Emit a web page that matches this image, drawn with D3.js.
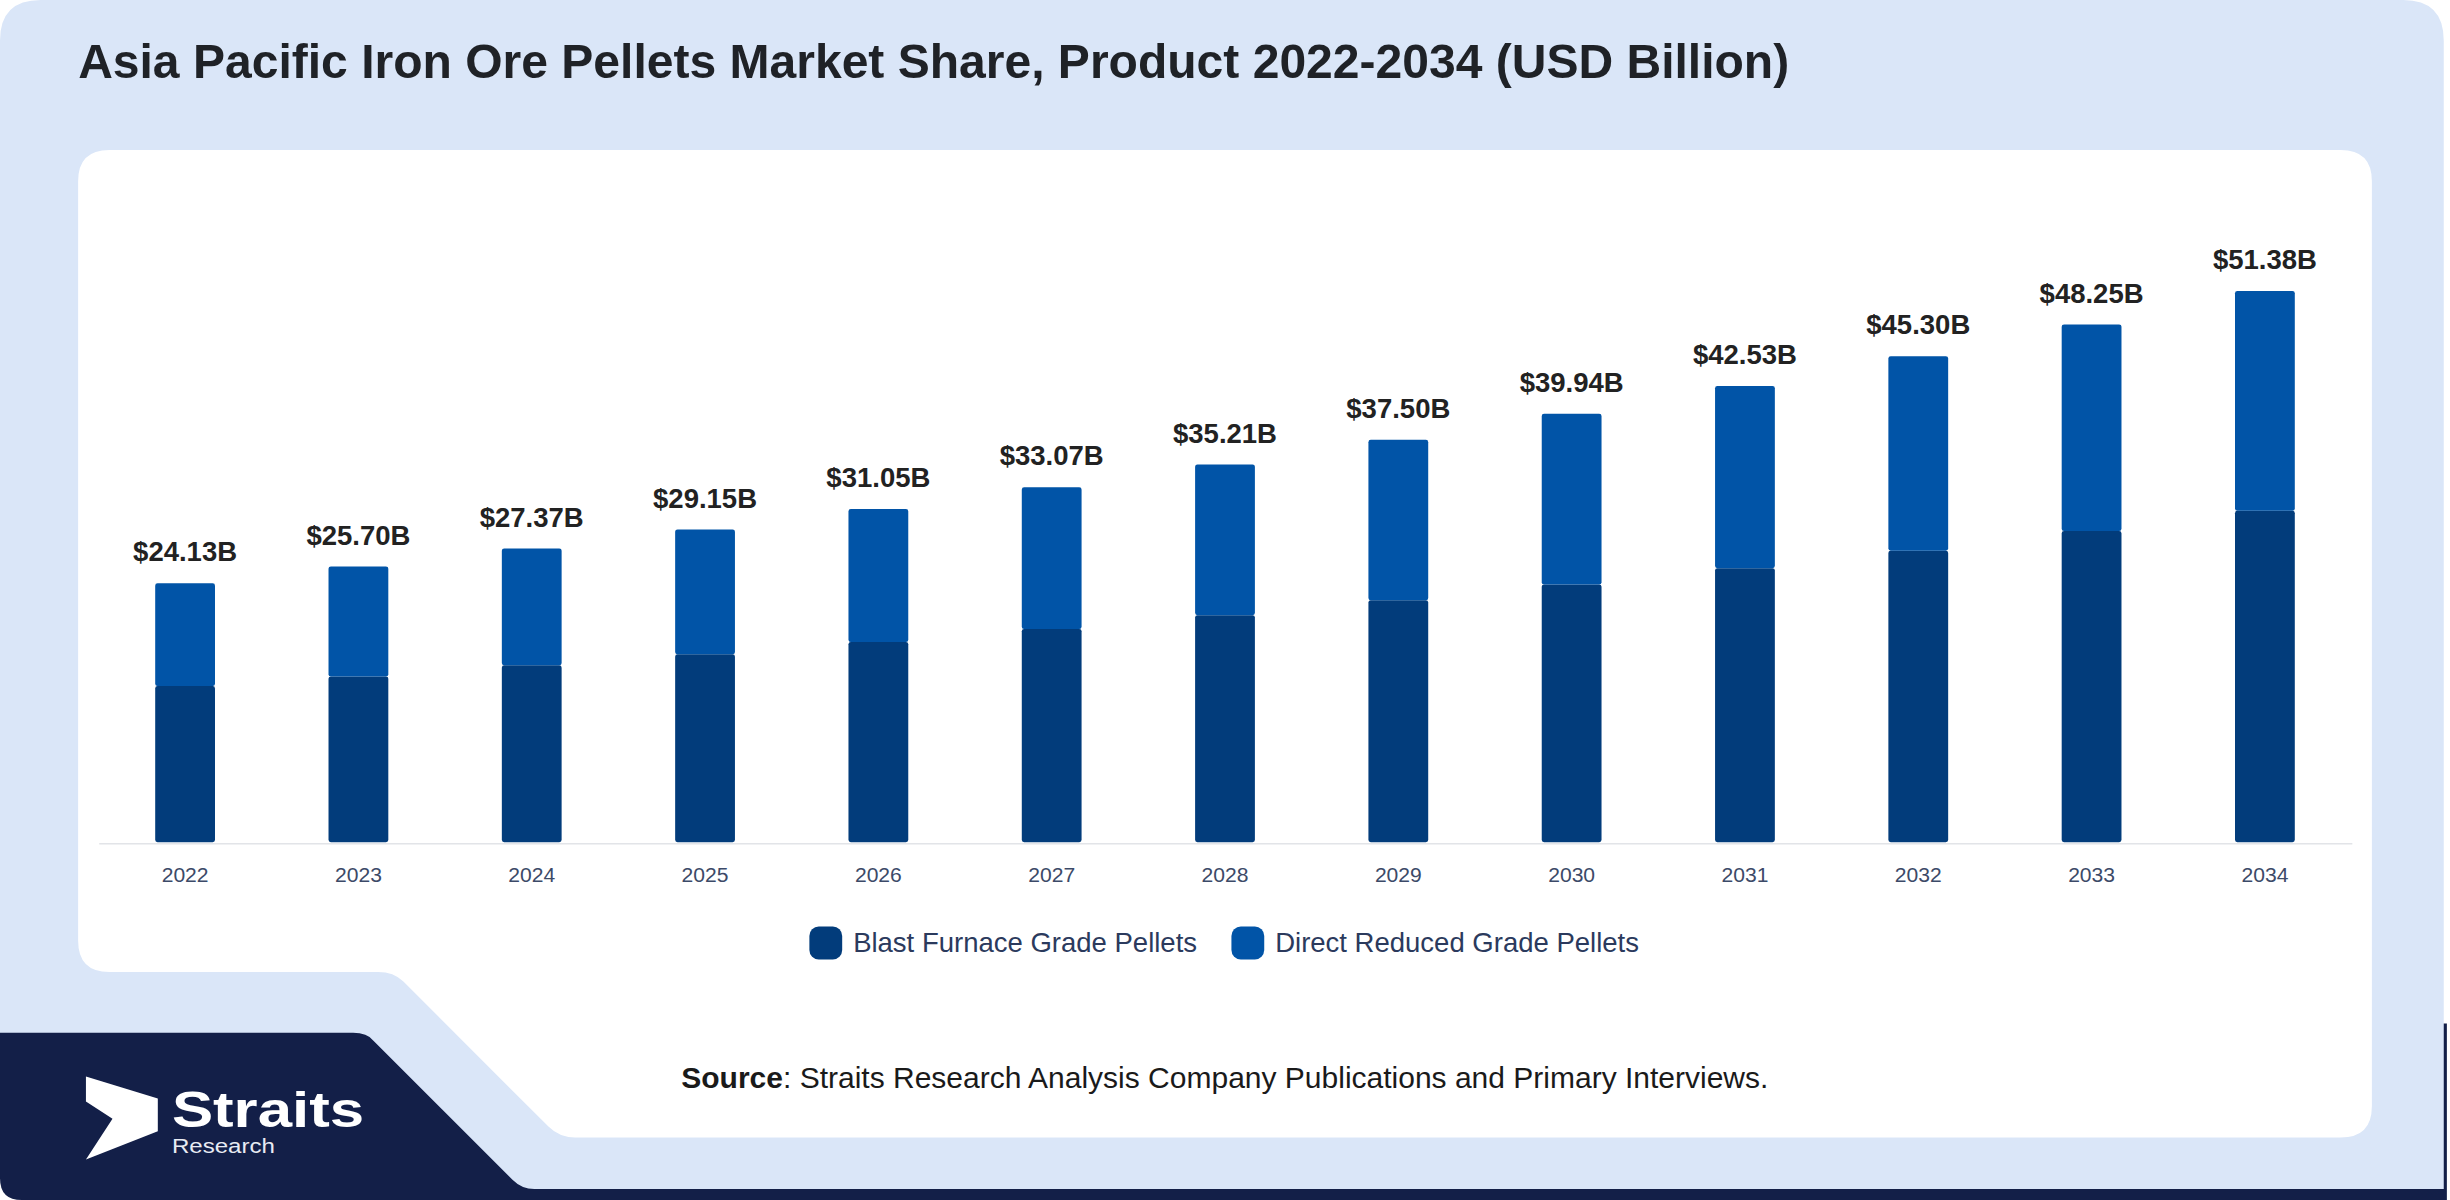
<!DOCTYPE html>
<html>
<head>
<meta charset="utf-8">
<script src="https://cdn.jsdelivr.net/npm/d3@7"></script>
<style>
  body { margin: 0; background: #ffffff; }
  svg { display: block; }
  text { font-family: "Liberation Sans", Arial, sans-serif; }
</style>
</head>
<body>
<div id="chart"></div>
<script>
// chart data
var years = ["2022", "2023", "2024", "2025", "2026", "2027", "2028", "2029", "2030", "2031", "2032", "2033", "2034"];
var blastFurnace = [14.55, 15.44, 16.48, 17.51, 18.66, 19.87, 21.16, 22.55, 24.02, 25.54, 27.17, 29.00, 30.88];
var directReduced = [9.58, 10.26, 10.89, 11.64, 12.39, 13.20, 14.05, 14.95, 15.92, 16.99, 18.13, 19.25, 20.50];
var totalLabels = ["$24.13B", "$25.70B", "$27.37B", "$29.15B", "$31.05B", "$33.07B", "$35.21B", "$37.50B", "$39.94B", "$42.53B", "$45.30B", "$48.25B", "$51.38B"];
var seriesNames = ["Blast Furnace Grade Pellets", "Direct Reduced Grade Pellets"];
var seriesColors = ["#023c7b", "#0154a7"];

// drawing is done on a 1568x768 grid, scaled up to the 2450x1200 page
var svgWidth = 2450;
var svgHeight = 1200;
var W = 1568, H = 768;

var svg = d3.select("#chart").append("svg")
  .attr("width", svgWidth)
  .attr("height", svgHeight)
  .attr("viewBox", `0 0 ${W} ${H}`);

// background shapes
svg.append("path")
  .attr("d", "M0,655 H1566 V768 H14 Q0,768 0,754 Z")
  .attr("fill", "#131f48");

svg.append("path")
  .attr("d", "M26,0 H1538 Q1564,0 1564,26 V761 H342 Q334,761 328,755 L239,666 Q235,661 226,661 H0 V26 Q0,0 26,0 Z")
  .attr("fill", "#dae6f8");

svg.append("path")
  .attr("d", "M70,96 H1498 Q1518,96 1518,116 V708 Q1518,728 1498,728 H368 Q358,728 351,721 L258,628 Q252,622 242,622 H70 Q50,622 50,602 V116 Q50,96 70,96 Z")
  .attr("fill", "#ffffff");

// title
svg.append("text")
  .attr("x", 50)
  .attr("y", 50)
  .attr("font-size", 30.75)
  .attr("font-weight", "bold")
  .attr("fill", "#1f2227")
  .text("Asia Pacific Iron Ore Pellets Market Share, Product 2022-2034 (USD Billion)");

// scales
var xScale = d3.scaleBand()
  .domain(years)
  .range([63, 1505])
  .paddingInner(0.655)
  .paddingOuter(0.3275);

var yScale = d3.scaleLinear()
  .domain([0, 60])
  .range([539, 127]);

var tableData = years.map(function(y, i) {
  return { year: y, blast: blastFurnace[i], direct: directReduced[i], label: totalLabels[i] };
});

var stack = d3.stack().keys(["blast", "direct"]);
var stacked = stack(tableData);

var chartGroup = svg.append("g");

chartGroup.selectAll("g.series")
  .data(stacked)
  .enter()
  .append("g")
  .attr("class", "series")
  .attr("fill", (d, i) => seriesColors[i])
  .selectAll("rect")
  .data(d => d)
  .enter()
  .append("rect")
  .attr("x", d => xScale(d.data.year))
  .attr("y", d => yScale(d[1]))
  .attr("width", xScale.bandwidth())
  .attr("height", d => yScale(d[0]) - yScale(d[1]))
  .attr("rx", 1.5);

// x axis
var xAxis = d3.axisBottom(xScale).tickSize(0).tickPadding(15.5);
var axisG = chartGroup.append("g")
  .attr("transform", "translate(0, 539.5)")
  .call(xAxis);
axisG.select(".domain").attr("stroke", "#e2e4e8").attr("stroke-width", 1);
axisG.selectAll(".tick text")
  .attr("font-family", "'Liberation Sans', Arial, sans-serif")
  .attr("font-size", 13.5)
  .attr("fill", "#3c4a68");

// total labels
chartGroup.selectAll("text.total")
  .data(tableData)
  .enter()
  .append("text")
  .attr("class", "total")
  .attr("x", d => xScale(d.year) + xScale.bandwidth() / 2)
  .attr("y", d => yScale(d.blast + d.direct) - 14)
  .attr("text-anchor", "middle")
  .attr("font-size", 17.6)
  .attr("font-weight", "bold")
  .attr("fill", "#222222")
  .text(d => d.label);

// legend
var legend = svg.append("g");
var lx = 518;
seriesNames.forEach(function(name, i) {
  legend.append("rect")
    .attr("x", lx)
    .attr("y", 593)
    .attr("width", 21)
    .attr("height", 21)
    .attr("rx", 6)
    .attr("fill", seriesColors[i]);
  var t = legend.append("text")
    .attr("x", lx + 28)
    .attr("y", 609)
    .attr("font-size", 17.6)
    .attr("fill", "#2b3a5d")
    .text(name);
  lx = lx + 28 + t.node().getComputedTextLength() + 22;
});

// source line
var src = svg.append("text")
  .attr("x", 436)
  .attr("y", 696)
  .attr("font-size", 19.2)
  .attr("fill", "#1a1a1a");
src.append("tspan").attr("font-weight", "bold").text("Source");
src.append("tspan").text(": Straits Research Analysis Company Publications and Primary Interviews.");

// logo
svg.append("path")
  .attr("d", "M55,689 L101,703 L101,724 L55,742 L72,716 L55,705 Z")
  .attr("fill", "#ffffff");
svg.append("text")
  .attr("x", 110)
  .attr("y", 721)
  .attr("font-family", "'Open Sans', 'Noto Sans', sans-serif")
  .attr("font-weight", 600)
  .attr("font-size", 32)
  .attr("textLength", 123)
  .attr("lengthAdjust", "spacingAndGlyphs")
  .attr("fill", "#ffffff")
  .text("Straits");
svg.append("text")
  .attr("x", 110)
  .attr("y", 738)
  .attr("font-family", "'Open Sans', 'Noto Sans', sans-serif")
  .attr("font-size", 13.5)
  .attr("textLength", 66)
  .attr("lengthAdjust", "spacingAndGlyphs")
  .attr("fill", "#e8ebf3")
  .text("Research");
</script>
</body>
</html>
